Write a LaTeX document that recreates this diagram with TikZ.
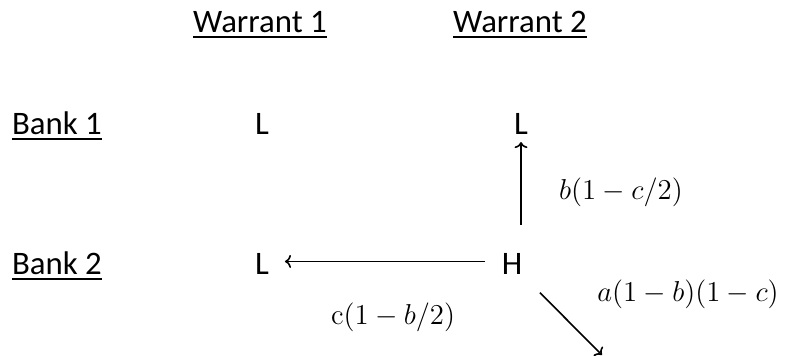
\documentclass[tikz,border=0pt]{standalone}
\usepackage[no-math]{fontspec}
\setmainfont{Carlito}
\usetikzlibrary{arrows.meta}
\newcommand{\ulhead}[1]{\setbox0\hbox{#1}\leavevmode\rlap{\raisebox{-2.6pt}{\rule{\wd0}{1.3pt}}}\box0}
\begin{document}
\begin{tikzpicture}[x=0.5pt,y=-0.5pt,
    lbl/.style={font=\fontsize{16.4}{20}\selectfont,anchor=base},
    mth/.style={font=\fontsize{14}{17}\selectfont},
    arr/.style={-{To[length=3pt,width=6.5pt]},line width=0.8pt}]
    \useasboundingbox (0,0) rectangle (790,356);
    % headings
    \node[lbl] (w1) at (260,33) {\ulhead{Warrant 1}};
    \node[lbl] (w2) at (520,33) {\ulhead{Warrant 2}};
    \node[lbl] (b1) at (57,135) {\ulhead{Bank 1}};
    \node[lbl] (b2) at (57,275) {\ulhead{Bank 2}};
    % states
    \node[lbl] (l11) at (262,135) {L};
    \node[lbl] (l12) at (521,135) {L};
    \node[lbl] (l21) at (262,275) {L};
    \node[lbl] (h)   at (512,275) {H};
    \coordinate (out) at (602,355);
    % moves
    \draw[arr,shorten <=11pt] (h.north -| l12.south) -- (l12.south);
    \draw[arr,shorten <=5pt,shorten >=4.5pt] ([yshift=1.5pt]h.west) -- ([yshift=1.5pt]l21.east);
    \draw[arr,shorten <=7.5pt] (h.south east) -- (out);
    \node[mth] at (621,192) {$b(1-c/2)$};
    \node[mth] at (393,317) {$\mathrm{c}(1-b/2)$};
    \node[mth] at (688,294) {$a(1-b)(1-c)$};
\end{tikzpicture}
\end{document}
